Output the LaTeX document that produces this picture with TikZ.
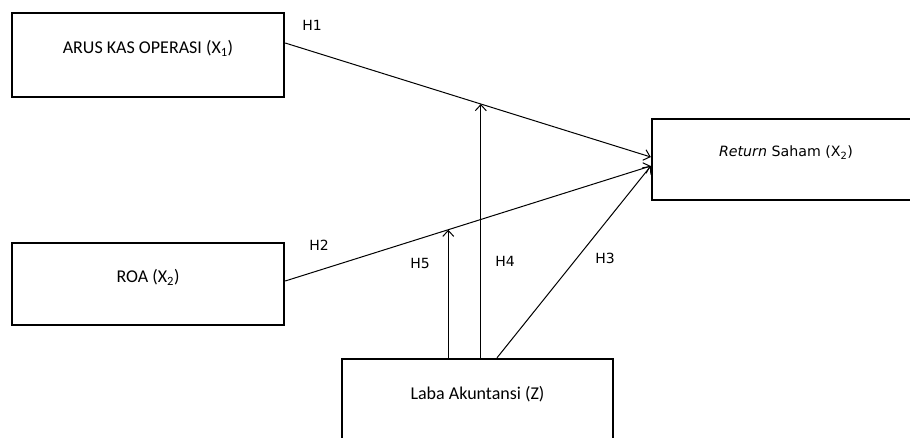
\documentclass[tikz,border=0pt]{standalone}
\usepackage{fontspec}
\setmainfont{Carlito}
\newfontfamily\verd{DejaVu Sans}
\usetikzlibrary{arrows.meta}
\tikzset{box/.style = {draw, line width = 2.4pt, minimum width = 272, minimum height = 84,
                       inner sep = 0, text depth = 16pt, font = \fontsize{18}{20}\selectfont}}
\tikzset{hyp/.style = {-{Straight Barb[length=6pt, width=11pt]}, line width = 1pt}}
\tikzset{lbl/.style = {font = \verd\fontsize{14}{16}\selectfont}}

\begin{document}
\begin{tikzpicture}[x = 1pt, y = -1pt]
    \useasboundingbox (0, 0) rectangle (910, 437);
    \node [box] (kas) at (148, 55) {ARUS KAS OPERASI (X\textsubscript{1})};
    \node [box, minimum height = 82] (roa) at (148, 284) {ROA (X\textsubscript{2})};
    \node [box, minimum width = 268, minimum height = 81,
           font = \verd\fontsize{14.2}{16}\selectfont] (ret) at (786, 159.5) {\textit{Return} Saham (X\textsubscript{2})};
    \node [box, minimum width = 271] (laba) at (477.5, 401) {Laba Akuntansi (Z)};
    \draw [hyp] ([yshift=12pt]kas.east) -- coordinate [pos=0.535] (m1) ([yshift=2.5pt]ret.west);
    \draw [hyp] ([yshift=3pt]roa.east) -- coordinate [pos=0.446] (m2) ([yshift=-6.5pt]ret.west);
    \draw [hyp] ([xshift=19.5pt]laba.north) -- ([yshift=-6.5pt]ret.west);
    \draw [hyp] (m1 |- laba.north) -- (m1);
    \draw [hyp] (m2 |- laba.north) -- (m2);
    \node [lbl] (h1) at (312, 25) {H1};
    \node [lbl] (h2) at (319, 245) {H2};
    \node [lbl] (h5) at (420, 263) {H5};
    \node [lbl] (h4) at (505, 261) {H4};
    \node [lbl] (h3) at (605, 258) {H3};
\end{tikzpicture}
\end{document}
